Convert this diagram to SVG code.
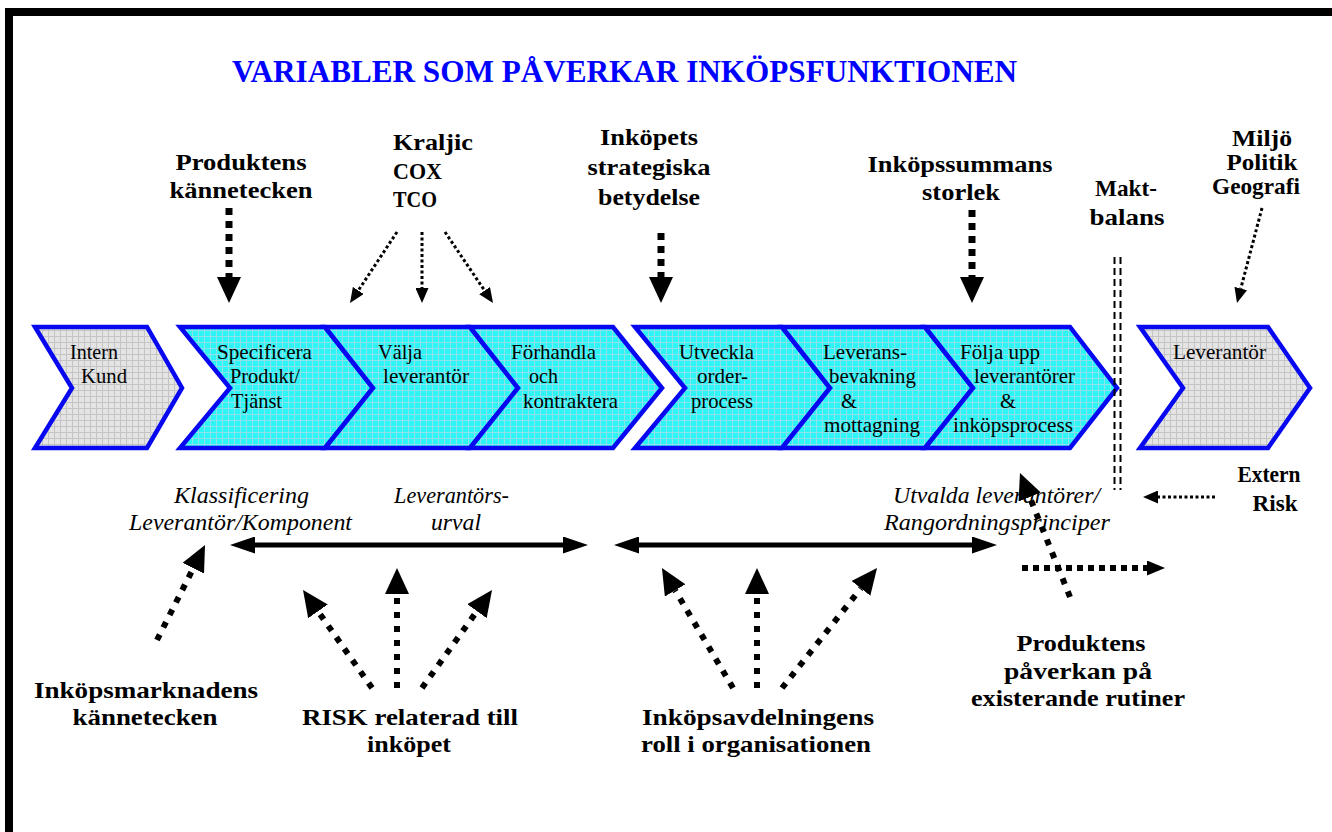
<svg xmlns="http://www.w3.org/2000/svg" width="1332" height="832" viewBox="0 0 1332 832" font-family="'Liberation Serif', 'Times New Roman', serif">
<style>
text{font-family:'Liberation Serif','Times New Roman',serif}
.ttl{font-weight:bold;font-size:31px;fill:#0000ff}
.lb{font-weight:bold;font-size:23px;fill:#000}
.it{font-style:italic;font-size:23px;fill:#000}
.ch{font-size:21px;fill:#000}
.cy{fill:url(#cyanGrid);stroke:#0808f0;stroke-width:4.5;stroke-linejoin:miter}
.gr{fill:url(#grayGrid);stroke:#0808f0;stroke-width:4.5;stroke-linejoin:miter}
.thick{fill:none;stroke:#000;stroke-width:7;stroke-dasharray:7 6}
.diag{fill:none;stroke:#000;stroke-width:6;stroke-dasharray:6 8}
.thin{fill:none;stroke:#000;stroke-width:3;stroke-dasharray:3 2.5}
.solid{fill:none;stroke:#000;stroke-width:5}
.mak{fill:none;stroke:#000;stroke-width:2;stroke-dasharray:7 4}
</style>
<defs>
<pattern id="cyanGrid" width="6" height="6" patternUnits="userSpaceOnUse">
<rect width="6" height="6" fill="#2ef5f5"/>
<path d="M0,0.5H6M0.5,0V6" stroke="#8ee0ea" stroke-width="1"/>
</pattern>
<pattern id="grayGrid" width="6" height="6" patternUnits="userSpaceOnUse">
<rect width="6" height="6" fill="#e4e4e4"/>
<path d="M0,0.5H6M0.5,0V6" stroke="#c4c4c4" stroke-width="1"/>
</pattern>
<marker id="big" markerUnits="userSpaceOnUse" markerWidth="26" markerHeight="24" viewBox="0 0 26 24" refX="0" refY="12" orient="auto">
<path d="M0,0 L26,12 L0,24 z" fill="#000"/>
</marker>
<marker id="small" markerUnits="userSpaceOnUse" markerWidth="15" markerHeight="13" viewBox="0 0 15 13" refX="0" refY="6.5" orient="auto">
<path d="M0,0 L15,6.5 L0,13 z" fill="#000"/>
</marker>
<marker id="mid" markerUnits="userSpaceOnUse" markerWidth="18" markerHeight="15" viewBox="0 0 18 15" refX="0" refY="7.5" orient="auto">
<path d="M0,0 L18,7.5 L0,15 z" fill="#000"/>
</marker>
<marker id="dbl" markerUnits="userSpaceOnUse" markerWidth="25" markerHeight="17" viewBox="0 0 25 17" refX="0" refY="8.5" orient="auto-start-reverse">
<path d="M0,0 L25,8.5 L0,17 z" fill="#000"/>
</marker>
</defs>
<rect x="0" y="0" width="1332" height="832" fill="#fff"/>
<rect id="frame" x="9" y="12" width="1335" height="830" fill="none" stroke="#000" stroke-width="8"/>

<text class="ttl" x="624.5" y="82" text-anchor="middle" textLength="785" lengthAdjust="spacingAndGlyphs">VARIABLER SOM PÅVERKAR INKÖPSFUNKTIONEN</text>

<g id="chevrons">
<g id="n-intern-kund">
<polygon class="gr" points="35,327 147,327 182,388 147,448 35,448 72,388"/>
<text class="ch" x="70" y="359" textLength="48" lengthAdjust="spacingAndGlyphs">Intern</text>
<text class="ch" x="81" y="383" textLength="46" lengthAdjust="spacingAndGlyphs">Kund</text>
</g>
<g id="n-specificera">
<polygon class="cy" points="180,327 325,327 373,388 325,448 180,448 230,388"/>
<text class="ch" x="217" y="359" textLength="95" lengthAdjust="spacingAndGlyphs">Specificera</text>
<text class="ch" x="230" y="383" textLength="70" lengthAdjust="spacingAndGlyphs">Produkt/</text>
<text class="ch" x="231" y="408" textLength="51" lengthAdjust="spacingAndGlyphs">Tjänst</text>
</g>
<g id="n-valja">
<polygon class="cy" points="325,327 470,327 518,388 470,448 325,448 373,388"/>
<text class="ch" x="378" y="359" textLength="44" lengthAdjust="spacingAndGlyphs">Välja</text>
<text class="ch" x="383" y="383" textLength="86" lengthAdjust="spacingAndGlyphs">leverantör</text>
</g>
<g id="n-forhandla">
<polygon class="cy" points="470,327 613,327 662,388 613,448 470,448 518,388"/>
<text class="ch" x="511" y="359" textLength="85" lengthAdjust="spacingAndGlyphs">Förhandla</text>
<text class="ch" x="529" y="383" textLength="29" lengthAdjust="spacingAndGlyphs">och</text>
<text class="ch" x="523" y="408" textLength="95" lengthAdjust="spacingAndGlyphs">kontraktera</text>
</g>
<g id="n-utveckla">
<polygon class="cy" points="635,327 782,327 830,388 782,448 635,448 685,388"/>
<text class="ch" x="679" y="359" textLength="75" lengthAdjust="spacingAndGlyphs">Utveckla</text>
<text class="ch" x="697" y="383" textLength="51" lengthAdjust="spacingAndGlyphs">order-</text>
<text class="ch" x="691" y="408" textLength="62" lengthAdjust="spacingAndGlyphs">process</text>
</g>
<g id="n-leverans">
<polygon class="cy" points="782,327 925,327 973,388 925,448 782,448 830,388"/>
<text class="ch" x="823" y="359" textLength="84" lengthAdjust="spacingAndGlyphs">Leverans-</text>
<text class="ch" x="829" y="383" textLength="87" lengthAdjust="spacingAndGlyphs">bevakning</text>
<text class="ch" x="841" y="408" textLength="16" lengthAdjust="spacingAndGlyphs">&amp;</text>
<text class="ch" x="824" y="432" textLength="96" lengthAdjust="spacingAndGlyphs">mottagning</text>
</g>
<g id="n-folja-upp">
<polygon class="cy" points="925,327 1070,327 1117,388 1070,448 925,448 973,388"/>
<text class="ch" x="960" y="359" textLength="80" lengthAdjust="spacingAndGlyphs">Följa upp</text>
<text class="ch" x="974" y="383" textLength="101" lengthAdjust="spacingAndGlyphs">leverantörer</text>
<text class="ch" x="1000" y="408" textLength="16" lengthAdjust="spacingAndGlyphs">&amp;</text>
<text class="ch" x="953" y="432" textLength="120" lengthAdjust="spacingAndGlyphs">inköpsprocess</text>
</g>
<g id="n-leverantor">
<polygon class="gr" points="1140,327 1268,327 1310,388 1268,448 1140,448 1183,388"/>
<text class="ch" x="1173" y="359" textLength="93" lengthAdjust="spacingAndGlyphs">Leverantör</text>
</g>
</g>

<g id="labels-top">
<g id="l-produktens" text-anchor="middle">
<text class="lb" x="241" y="170" textLength="131" lengthAdjust="spacingAndGlyphs">Produktens</text>
<text class="lb" x="241" y="198" textLength="143" lengthAdjust="spacingAndGlyphs">kännetecken</text>
</g>
<g id="l-kraljic">
<text class="lb" x="393" y="150" textLength="80" lengthAdjust="spacingAndGlyphs">Kraljic</text>
<text class="lb" x="393" y="179" textLength="49" lengthAdjust="spacingAndGlyphs">COX</text>
<text class="lb" x="393" y="207" textLength="44" lengthAdjust="spacingAndGlyphs">TCO</text>
</g>
<g id="l-inkopets" text-anchor="middle">
<text class="lb" x="649" y="145" textLength="98" lengthAdjust="spacingAndGlyphs">Inköpets</text>
<text class="lb" x="649" y="175" textLength="123" lengthAdjust="spacingAndGlyphs">strategiska</text>
<text class="lb" x="649" y="205" textLength="102" lengthAdjust="spacingAndGlyphs">betydelse</text>
</g>
<g id="l-inkopssummans" text-anchor="middle">
<text class="lb" x="960" y="172" textLength="185" lengthAdjust="spacingAndGlyphs">Inköpssummans</text>
<text class="lb" x="961" y="200" textLength="78" lengthAdjust="spacingAndGlyphs">storlek</text>
</g>
<g id="l-maktbalans" text-anchor="middle">
<text class="lb" x="1126" y="196" textLength="62" lengthAdjust="spacingAndGlyphs">Makt-</text>
<text class="lb" x="1127" y="225" textLength="75" lengthAdjust="spacingAndGlyphs">balans</text>
</g>
<g id="l-miljo" text-anchor="middle">
<text class="lb" x="1262" y="146" textLength="60" lengthAdjust="spacingAndGlyphs">Miljö</text>
<text class="lb" x="1262" y="170" textLength="71" lengthAdjust="spacingAndGlyphs">Politik</text>
<text class="lb" x="1256" y="194" textLength="88" lengthAdjust="spacingAndGlyphs">Geografi</text>
</g>
<g id="l-extern-risk" text-anchor="middle">
<text class="lb" x="1269" y="482" textLength="63" lengthAdjust="spacingAndGlyphs">Extern</text>
<text class="lb" x="1275" y="511" textLength="45" lengthAdjust="spacingAndGlyphs">Risk</text>
</g>
</g>
<g id="labels-italic">
<g id="l-klassificering">
<text class="it" x="174" y="503" textLength="135" lengthAdjust="spacingAndGlyphs">Klassificering</text>
<text class="it" x="129" y="530" textLength="223" lengthAdjust="spacingAndGlyphs">Leverantör/Komponent</text>
</g>
<g id="l-leverantorsurval">
<text class="it" x="394" y="503" textLength="115" lengthAdjust="spacingAndGlyphs">Leverantörs-</text>
<text class="it" x="431" y="530" textLength="50" lengthAdjust="spacingAndGlyphs">urval</text>
</g>
<g id="l-utvalda">
<text class="it" x="893" y="503" textLength="207" lengthAdjust="spacingAndGlyphs">Utvalda leverantörer/</text>
<text class="it" x="884" y="530" textLength="226" lengthAdjust="spacingAndGlyphs">Rangordningsprinciper</text>
</g>
</g>
<g id="labels-bottom">
<g id="l-inkopsmarknadens" text-anchor="middle">
<text class="lb" x="146" y="698" textLength="224" lengthAdjust="spacingAndGlyphs">Inköpsmarknadens</text>
<text class="lb" x="145" y="725" textLength="145" lengthAdjust="spacingAndGlyphs">kännetecken</text>
</g>
<g id="l-risk" text-anchor="middle">
<text class="lb" x="410" y="725" textLength="216" lengthAdjust="spacingAndGlyphs">RISK relaterad till</text>
<text class="lb" x="409" y="752" textLength="84" lengthAdjust="spacingAndGlyphs">inköpet</text>
</g>
<g id="l-inkopsavdelningens" text-anchor="middle">
<text class="lb" x="758" y="725" textLength="232" lengthAdjust="spacingAndGlyphs">Inköpsavdelningens</text>
<text class="lb" x="756" y="752" textLength="230" lengthAdjust="spacingAndGlyphs">roll i organisationen</text>
</g>
<g id="l-produktens-paverkan" text-anchor="middle">
<text class="lb" x="1081" y="651" textLength="129" lengthAdjust="spacingAndGlyphs">Produktens</text>
<text class="lb" x="1078" y="679" textLength="148" lengthAdjust="spacingAndGlyphs">påverkan på</text>
<text class="lb" x="1078" y="706" textLength="214" lengthAdjust="spacingAndGlyphs">existerande rutiner</text>
</g>
</g>

<g id="connectors">
<line class="thick" x1="229" y1="208" x2="229" y2="277" marker-end="url(#big)"/>
<line class="thin" x1="397" y1="232" x2="358.3" y2="290.5" marker-end="url(#small)"/>
<line class="thin" x1="422" y1="232" x2="422" y2="288" marker-end="url(#small)"/>
<line class="thin" x1="445" y1="232" x2="484.6" y2="290.6" marker-end="url(#small)"/>
<line class="thick" x1="661" y1="233" x2="661" y2="277" marker-end="url(#big)"/>
<line class="thick" x1="972" y1="210" x2="972" y2="277" marker-end="url(#big)"/>
<line class="thin" x1="1262" y1="208" x2="1240.8" y2="288.5" marker-end="url(#small)"/>
<line class="mak" x1="1114.5" y1="257" x2="1114.5" y2="490"/>
<line class="mak" x1="1120.5" y1="257" x2="1120.5" y2="490"/>
<line class="thin" x1="1215" y1="497" x2="1158" y2="497" marker-end="url(#small)"/>
<line class="solid" x1="255" y1="545" x2="563" y2="545" marker-start="url(#dbl)" marker-end="url(#dbl)"/>
<line class="solid" x1="639" y1="545" x2="972" y2="545" marker-start="url(#dbl)" marker-end="url(#dbl)"/>
<line class="diag" x1="157" y1="640" x2="193.3" y2="568.2" marker-end="url(#big)"/>
<line class="diag" x1="372" y1="688" x2="318" y2="611.3" marker-end="url(#big)"/>
<line class="diag" x1="397" y1="688" x2="397" y2="594" marker-end="url(#big)"/>
<line class="diag" x1="422" y1="688" x2="476.9" y2="611.2" marker-end="url(#big)"/>
<line class="diag" x1="733" y1="688" x2="675.2" y2="590.4" marker-end="url(#big)"/>
<line class="diag" x1="757" y1="688" x2="757" y2="594" marker-end="url(#big)"/>
<line class="diag" x1="782" y1="688" x2="860.9" y2="588.4" marker-end="url(#big)"/>
<line class="diag" x1="1070" y1="597" x2="1029.7" y2="497.1" marker-end="url(#big)"/>
<line class="diag" x1="1022" y1="568" x2="1147" y2="568" marker-end="url(#mid)" style="stroke-width:6;stroke-dasharray:6 5"/>
</g>
</svg>
